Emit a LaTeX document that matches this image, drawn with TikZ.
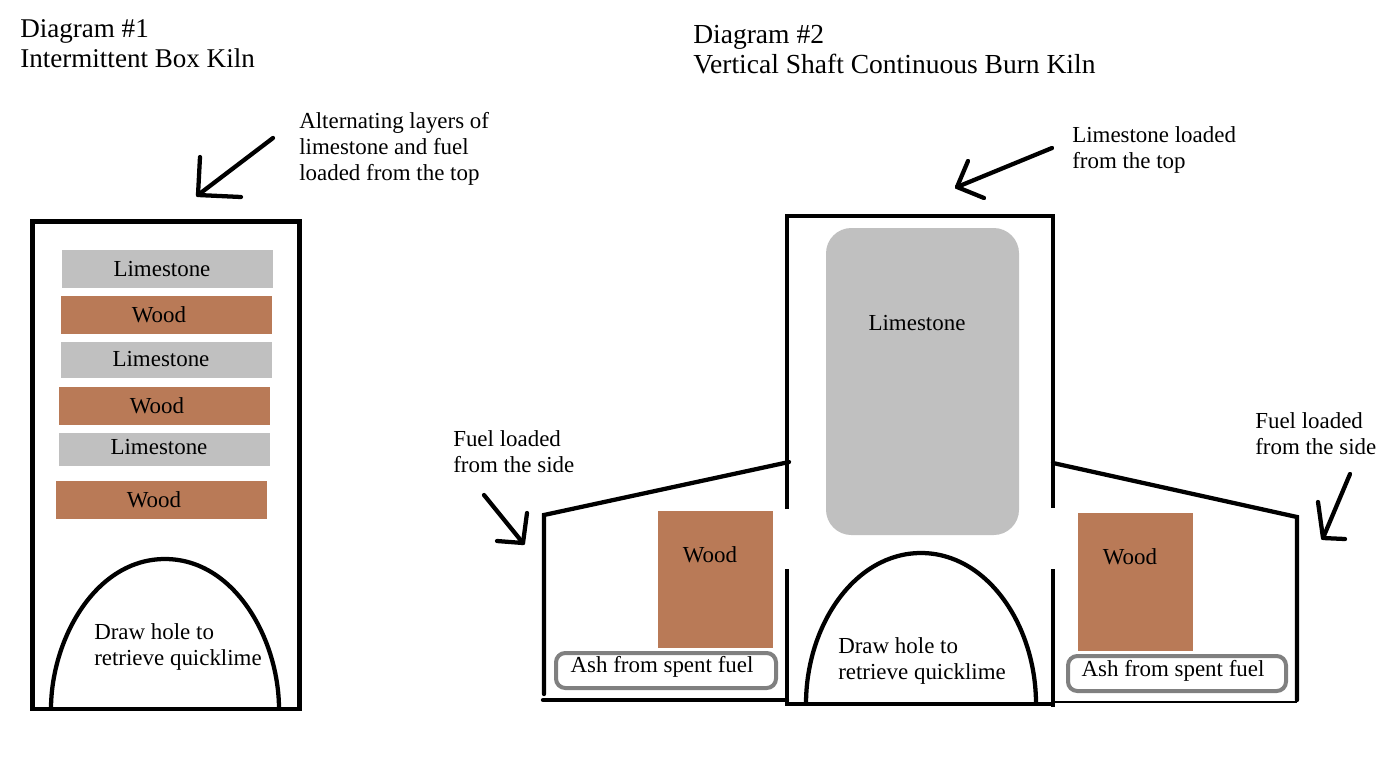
\documentclass[tikz,border=0pt]{standalone}
\usepackage{fontspec}
\setmainfont{Liberation Serif}
\definecolor{stonec}{HTML}{C0C0C0}
\definecolor{woodc}{HTML}{B97A57}
\definecolor{ashc}{HTML}{808080}
\tikzset{
  wall/.style={draw=black,line width=3.2pt,line cap=round,line join=miter},
  kiln/.style={draw=black,line width=3.6pt,line cap=rect,line join=miter},
  hole/.style={draw=black,line width=3.2pt},
  pen/.style={draw=black,line width=3.2pt,line cap=round,line join=round},
  ash/.style={draw=ashc,line width=3pt,rounded corners=7pt},
  stonefill/.style={fill=stonec},
  woodfill/.style={fill=woodc},
  small/.style={font=\fontsize{17.2}{19.5}\selectfont,inner sep=0pt,text=black},
  body/.style={small,anchor=north west,align=left},
  lay/.style={small,anchor=base},
  title/.style={font=\fontsize{20.65}{22.5}\selectfont,inner sep=0pt,anchor=north west,align=left},
  titleleft/.style={title,font=\fontsize{20.3}{22.5}\selectfont}
}
\begin{document}
\begin{tikzpicture}[x=0.75pt,y=-0.75pt]
\useasboundingbox (0,0) rectangle (1383,775);
\fill[white] (0,0) rectangle (1383,775);
% Titles
\node[titleleft] (t1) at (20,19) {Diagram \#1\\Intermittent Box Kiln};
\node[title] (t2) at (693,25) {Diagram \#2\\Vertical Shaft Continuous Burn Kiln};
% Diagram 1 layers
\fill[stonefill] (62,250) rectangle (273,288);
\fill[woodfill] (61,296) rectangle (272,334);
\fill[stonefill] (61,342) rectangle (272,378);
\fill[woodfill] (59,387) rectangle (270,425);
\fill[stonefill] (59,433) rectangle (270,466);
\fill[woodfill] (56,481) rectangle (267,519);
\node[lay] (l1) at (162,276) {Limestone};
\node[lay] (w1) at (159,322) {Wood};
\node[lay] (l2) at (161,366) {Limestone};
\node[lay] (w2) at (157,413) {Wood};
\node[lay] (l3) at (159,454) {Limestone};
\node[lay] (w3) at (154,507) {Wood};
\draw[kiln] (32.5,221.5) rectangle (299.5,709);
\draw[hole] (51,709) .. controls (51,640) and (95,559) .. (165,559) .. controls (235,559) and (279,640) .. (279,709);
\node[body] (d1) at (94,623) {Draw hole to\\retrieve quicklime};
\node[body] (n1) at (299,112) {Alternating layers of\\limestone and fuel\\loaded from the top};
\draw[pen] (273,138) -- (198,195);
\draw[pen] (200,157) -- (198,195) -- (241,197);
% Diagram 2 fills
\fill[stonefill,rounded corners=19pt] (826,228) rectangle (1019,535);
\fill[woodfill] (658,511) rectangle (773,648);
\fill[woodfill] (1078,513) rectangle (1193,651);
\node[lay] (l4) at (917,330) {Limestone};
\node[lay] (w4) at (710,562) {Wood};
\node[lay] (w5) at (1130,564) {Wood};
% Shaft
\draw[kiln,line cap=butt] (787,509) -- (787,216) -- (1053,216) -- (1053,508);
\draw[wall,line cap=butt] (787,569) -- (787,706);
\draw[wall,line cap=butt] (1053,569) -- (1053,707);
\draw[wall,line cap=butt] (785,704) -- (1055,704);
\draw[hole] (806,704) .. controls (806,625) and (855,553) .. (921,553) .. controls (987,553) and (1036,625) .. (1036,704);
\node[body] (d2) at (838,637) {Draw hole to\\retrieve quicklime};
% Side chambers
\draw[wall] (544,694) -- (544,515) -- (789,462);
\draw[wall] (543,700) -- (787,700);
\draw[wall] (1053,463) -- (1297,517) -- (1297,700);
\draw[draw=black,line width=1.6pt] (1055,702) -- (1297,702);
\draw[ash] (556,653) rectangle (776,688);
\draw[ash] (1068,656) rectangle (1286,691);
\node[lay] (a1) at (662,672) {Ash from spent fuel};
\node[lay] (a2) at (1173,676) {Ash from spent fuel};
% Labels
\node[body] (n2) at (1072,126.5) {Limestone loaded\\from the top};
\node[body] (n3) at (453,430) {Fuel loaded\\from the side};
\node[body] (n4) at (1255,412) {Fuel loaded\\from the side};
% Arrows
\draw[pen] (1052,148) -- (957,187);
\draw[pen] (968,161) -- (957,187) -- (984,198);
\draw[pen] (484,495) -- (523,543);
\draw[pen] (527,513) -- (523,543) -- (497,541);
\draw[pen] (1350,474) -- (1323,538);
\draw[pen] (1318,502) -- (1323,538) -- (1345,539);
\end{tikzpicture}
\end{document}
